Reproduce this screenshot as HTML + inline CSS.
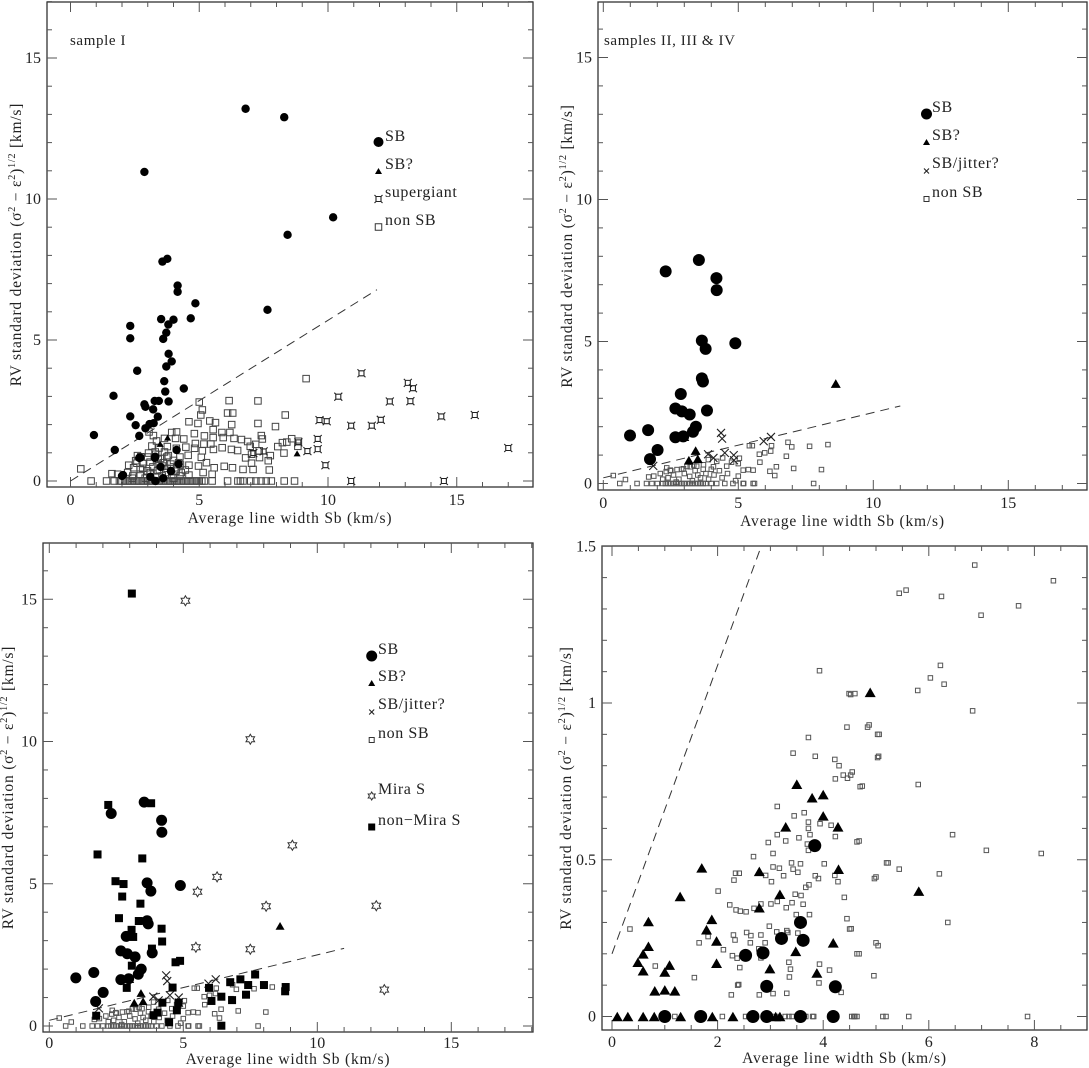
<!DOCTYPE html>
<html><head><meta charset="utf-8"><style>
html,body{margin:0;padding:0;background:#fff;}
svg{display:block;font-family:"Liberation Serif","DejaVu Serif",serif;}
</style></head><body>
<svg id="fig" width="1089" height="1068" viewBox="0 0 1089 1068" xmlns="http://www.w3.org/2000/svg"></svg>
<script>
// ---------- Panel 1 data (sample I) ----------
const p1SbX=[6.8,8.3,2.87,10.2,8.43,3.57,3.76,4.16,4.16,4.85,7.65,2.32,2.32,3.52,3.8,4.0,4.67,3.72,3.6,3.81,3.93,3.72,2.59,3.64,4.4,1.67,3.68,3.81,2.87,2.91,3.27,3.43,3.21,2.32,3.39,2.53,2.91,3.07,3.23,0.91,2.67,1.72,4.12,2.67,3.28,2.0,3.29,2.71,2.04,3.5,3.9,3.1,3.6,4.2,3.3];
const p1SbY=[13.2,12.9,10.96,9.35,8.73,7.78,7.88,6.93,6.71,6.3,6.07,5.5,5.06,5.74,5.55,5.72,5.77,5.26,5.04,4.51,4.24,4.06,3.91,3.54,3.28,3.02,3.17,2.82,2.72,2.63,2.84,2.84,2.54,2.29,2.28,1.98,1.87,2.02,2.05,1.63,1.6,1.1,1.1,0.82,0.82,0.18,0.86,0.83,0.21,0.5,0.35,0.15,0.1,0.6,0.0];
const p1TriX=[3.77,3.48,8.8];
const p1TriY=[1.54,1.32,0.98];
const p1SgX=[11.3,13.1,13.3,10.4,12.4,13.2,14.4,15.7,9.67,9.95,12.05,10.9,11.7,9.6,9.6,8.85,9.2,17.0,9.9,10.9,14.5,7.5,7.1];
const p1SgY=[3.82,3.48,3.29,2.99,2.82,2.83,2.29,2.34,2.16,2.12,2.17,1.96,1.96,1.49,1.13,1.37,1.06,1.17,0.56,0,0,1.05,0.99];
const p1NsX=[9.15,6.16,7.28,5.0,5.12,6.1,6.3,8.34,5.06,4.6,4.95,5.41,5.63,6.26,7.28,7.96,5.54,5.88,6.19,4.12,3.93,4.81,5.2,5.54,5.93,6.35,6.64,7.41,7.45,6.88,7.19,8.05,8.23,8.4,8.59,8.85,8.83,8.29,3.34,3.65,4.4,4.08,4.85,5.18,5.45,3.16,3.44,3.76,4.11,4.48,4.82,5.12,5.55,5.89,6.25,6.49,6.98,7.03,7.33,6.8,7.03,7.34,7.68,7.76,2.73,3.03,3.31,2.53,2.81,3.09,1.61,1.83,2.22,0.4,2.71,2.99,3.38,3.58,3.9,4.27,4.6,4.97,5.28,5.58,5.97,6.29,6.7,7.09,7.72,2.45,2.58,2.26,3.41,3.74,4.0,4.25,4.57,5.08,3.56,3.93,4.25,4.6,2.42,2.71,3.09,5.15,5.5,4.12,4.46,3.29,3.65,3.05,3.22,2.9,3.2,3.5,3.7,3.9,4.1,3.0,2.6,3.4,3.8,4.3,2.4,3.3,3.6,4.0,2.8,3.1,3.45,3.75,4.2,
0.8,1.4,1.7,1.9,2.0,2.1,2.2,2.3,2.4,2.5,2.6,2.7,2.8,2.9,3.0,3.1,3.2,3.3,3.4,3.5,3.6,3.7,3.8,3.9,4.0,4.1,4.2,4.3,4.4,4.5,4.6,4.7,4.8,4.9,5.0,5.1,5.2,5.5,6.1,6.5,6.6,6.7,7.0,7.2,7.4,7.6,7.8,8.3,8.7];
const p1NsY=[3.63,2.85,2.84,2.8,2.52,2.41,2.41,2.34,2.34,2.1,2.04,2.13,2.07,2.0,2.04,1.93,1.82,1.72,1.72,1.74,1.72,1.68,1.6,1.54,1.54,1.51,1.47,1.61,1.49,1.4,1.3,1.22,1.36,1.38,1.5,1.41,1.23,0.99,1.42,1.51,1.49,1.51,1.33,1.31,1.31,1.24,1.17,1.22,1.16,1.2,1.16,1.07,1.12,1.18,1.12,1.08,1.23,0.95,1.07,0.82,0.63,0.83,0.72,0.9,0.86,0.99,0.95,0.72,0.62,0.67,0.26,0.24,0.3,0.43,0.41,0.36,0.36,0.53,0.44,0.57,0.56,0.53,0.65,0.47,0.52,0.47,0.41,0.41,0.39,0.47,0.63,0.56,0.77,0.85,0.73,0.85,0.91,0.84,0.18,0.2,0.18,0.21,0.18,0.24,0.24,0.3,0.24,0.47,0.39,1.03,1.03,1.74,1.61,0.1,0.5,0.8,0.3,0.6,0.35,0.85,0.9,0.6,0.9,0.3,0.1,0.15,0.65,0.1,0.45,0.3,0.4,0.45,0.65,
0,0,0,0,0,0,0,0,0,0,0,0,0,0,0,0,0,0,0,0,0,0,0,0,0,0,0,0,0,0,0,0,0,0,0,0,0,0,0,0,0,0,0,0,0,0,0,0,0];

// ---------- Panels 2 & 3 data (samples II, III & IV) ----------
const sbX=[3.54,2.31,4.19,4.2,3.65,3.79,4.89,3.65,3.69,2.87,2.67,2.91,3.2,3.84,3.43,3.32,0.99,1.66,2.67,2.96,2.01,1.73];
const sbY=[7.87,7.47,7.23,6.81,5.03,4.74,4.94,3.7,3.59,3.15,2.64,2.54,2.43,2.57,2.0,1.82,1.69,1.88,1.63,1.66,1.18,0.86];
const triX=[8.61,3.42,3.17,3.5,3.0];
const triY=[3.52,1.16,0.82,0.87,1.65];
const crossX=[4.36,4.4,5.94,6.21,1.85,3.88,4.5,4.83,4.84,4.08];
const crossY=[1.78,1.58,1.49,1.64,0.62,1.03,1.08,1.0,0.82,0.9];
const nsX=[8.32,7.64,6.84,6.98,6.23,6.2,5.98,5.78,5.41,5.52,6.78,5.8,6.41,6.17,6.35,7.05,8.08,7.79,0.37,0.82,0.61,1.25,1.68,1.87,2.11,2.33,2.48,2.73,2.97,3.22,3.46,3.71,3.89,4.08,4.2,4.42,4.57,4.75,5.04,5.0,5.18,5.37,5.55,5.18,5.55,
1.6,1.8,2.0,2.2,2.3,2.4,2.5,2.6,2.7,2.8,2.9,3.0,3.1,3.2,3.3,3.4,3.5,3.6,3.7,3.8,4.0,4.2,4.5,4.8,5.2,5.6,
2.4,2.6,2.8,3.0,3.2,3.4,3.6,3.8,2.5,2.9,3.3,3.5,3.7,3.9,4.1,4.3,4.4,2.2,2.7,3.1,4.6,4.0,3.35,2.35,4.9,5.0];
const nsY=[1.37,1.31,1.45,1.29,1.33,1.14,1.08,1.03,1.33,1.33,0.96,0.75,0.59,0.43,0.28,0.53,0.49,0,0.28,0.14,0,0,0.23,0.26,0.35,0.42,0.47,0.49,0.52,0.59,0.61,0.66,0.84,0.59,0.78,0.9,0.61,0.75,0.89,0.26,0.47,0.49,0.47,0,0,
0,0,0,0,0,0,0,0,0,0,0,0,0,0,0,0,0,0,0,0,0,0,0,0,0,0,
0.2,0.3,0.15,0.35,0.25,0.45,0.2,0.35,0.45,0.5,0.1,0.3,0.5,0.15,0.3,0.45,0.2,0.15,0.05,0.6,0.35,0.5,0.65,0.55,0.1,0.7];
const miraX=[5.08,7.5,9.07,6.26,5.53,8.09,12.2,5.47,7.5,12.5];
const miraY=[14.95,10.08,6.35,5.24,4.72,4.21,4.23,2.77,2.7,1.28];
const nonMiraX=[3.08,2.2,3.8,1.8,3.47,2.47,2.77,2.72,3.4,2.6,3.34,3.07,3.13,4.19,4.21,3.83,3.08,4.71,4.88,7.68,7.13,6.75,7.42,8.01,8.82,8.8,5.96,4.6,2.89,7.34,6.42,6.82,6.05,4.22,4.82,4.04,3.89,4.76,4.47,6.42,1.75];
const nonMiraY=[15.2,7.77,7.83,6.03,5.89,5.09,4.99,4.55,4.3,3.79,3.69,3.38,3.13,3.42,2.97,2.72,2.12,2.24,2.29,1.81,1.64,1.54,1.44,1.44,1.37,1.22,1.34,1.35,1.34,1.1,1.03,0.91,0.88,0.82,0.82,0.47,0.38,0.55,0.13,0.01,0.36];

// ---------- Panel 4 data (zoom) ----------
const p4SbX=[3.84,3.57,3.21,3.62,2.53,2.86,2.93,4.23,1.0,1.68,2.67,2.93,3.57,4.19];
const p4SbY=[0.545,0.30,0.249,0.243,0.195,0.203,0.096,0.095,0,0,0,0,0,0];
const p4TriX=[4.89,3.5,3.79,4.0,4.0,3.29,4.28,1.7,2.79,4.29,1.29,3.18,2.79,0.69,1.89,1.79,1.98,0.69,0.59,0.49,0.59,1.09,1.98,2.99,3.48,4.19,3.88,0.81,1.0,1.19,1.0,5.81,0.1,0.3,0.59,0.8,1.3,1.9,2.29,3.18,3.1];
const p4TriY=[1.034,0.741,0.698,0.708,0.64,0.605,0.605,0.474,0.463,0.47,0.383,0.39,0.347,0.303,0.31,0.277,0.241,0.224,0.2,0.173,0.146,0.164,0.17,0.153,0.208,0.235,0.139,0.082,0.085,0.082,0.142,0.40,0,0,0,0,0,0,0,0,0];
const p4NsX=[6.87,8.36,5.44,5.57,6.24,7.70,6.99,6.22,6.03,6.29,5.79,4.6,6.83,4.87,5.06,5.05,4.55,4.74,5.8,6.45,7.09,4.68,8.13,5.23,5.44,5.0,6.2,6.36,4.53,5.0,5.04,4.68,4.96,4.6,4.64,5.19,5.62,7.87,
3.93,4.49,4.52,4.45,4.84,5.03,3.72,3.43,3.85,4.22,4.3,5.03,4.23,4.38,4.52,4.46,4.7,3.13,3.45,3.64,3.72,3.72,3.94,4.15,4.23,3.75,3.13,3.29,3.54,2.96,3.05,3.7,3.72,4.64,2.68,3.4,3.57,4.02,3.05,3.17,3.25,3.43,3.52,3.85,3.91,4.22,4.28,2.34,2.41,2.31,2.91,3.02,4.97,5.2,2.01,3.47,3.58,3.67,3.73,3.13,3.41,3.62,4.4,2.23,2.35,2.43,2.54,2.69,2.82,3.01,3.3,3.49,3.74,4.45,4.5,2.98,3.12,3.31,3.33,3.52,2.3,2.33,2.55,2.63,2.62,2.82,2.9,1.65,1.82,2.11,2.28,2.37,2.78,2.82,2.42,3.35,3.38,3.36,3.93,4.12,4.64,0.82,0.34,1.56,2.38,2.4,2.26,2.79,3.05,3.31,3.92,4.34,
1.19,2.09,2.53,2.59,2.98,3.07,3.13,3.28,3.35,3.41,3.67,3.8,3.82,4.54,4.58,5.13];
const p4NsY=[1.44,1.39,1.35,1.36,1.34,1.31,1.28,1.12,1.08,1.06,1.04,1.03,0.975,0.93,0.90,0.83,0.78,0.735,0.74,0.58,0.53,0.56,0.52,0.49,0.47,0.445,0.455,0.30,0.28,0.235,0.226,0.20,0.13,0,0,0,0,0,
1.103,1.03,1.027,0.923,0.923,0.9,0.89,0.84,0.83,0.82,0.80,0.826,0.758,0.77,0.77,0.76,0.733,0.67,0.64,0.65,0.62,0.6,0.615,0.61,0.574,0.58,0.58,0.56,0.57,0.555,0.52,0.55,0.53,0.557,0.51,0.49,0.487,0.487,0.477,0.473,0.449,0.47,0.46,0.449,0.44,0.45,0.43,0.457,0.457,0.435,0.45,0.43,0.44,0.49,0.4,0.39,0.386,0.412,0.42,0.367,0.363,0.358,0.38,0.356,0.34,0.336,0.334,0.345,0.359,0.359,0.347,0.325,0.325,0.312,0.279,0.288,0.27,0.274,0.268,0.266,0.26,0.244,0.268,0.258,0.235,0.26,0.235,0.235,0.255,0.213,0.194,0.186,0.216,0.187,0.156,0.173,0.151,0.126,0.167,0.148,0.2,0.161,0.279,0.124,0.1,0.102,0.069,0.069,0.073,0.074,0.107,0.077,
0,0,0,0,0,0,0,0,0,0,0,0,0,0,0,0];

const NS='http://www.w3.org/2000/svg';
const svg=document.getElementById('fig');
function mk(tag,attrs,parent){const e=document.createElementNS(NS,tag);for(const k in attrs)e.setAttribute(k,attrs[k]);(parent||svg).appendChild(e);return e;}

function makeAxes(c){
  const sx=v=>c.x0+v*c.xs, sy=v=>c.y0-v*c.ys;
  const g=mk('g',{});
  
  
  const fr=mk('rect',{x:c.L,y:c.T,width:c.R-c.L,height:c.B-c.T,fill:'none',stroke:'#333','stroke-width':1.3},g);
  
  
  for(let v=c.xMinorStart;v<=c.xMax+1e-9;v+=c.xMinor){
    const X=sx(v); if(X<c.L||X>c.R)continue;
    const major=Math.abs(v/c.xMajor-Math.round(v/c.xMajor))<1e-6;
    const len=major?10:5;
    mk('line',{x1:X,y1:c.B,x2:X,y2:c.B-len,stroke:'#555','stroke-width':1},g);
    mk('line',{x1:X,y1:c.T,x2:X,y2:c.T+len,stroke:'#555','stroke-width':1},g);
  }
  for(let v=c.yMinorStart;v<=c.yMax+1e-9;v+=c.yMinor){
    const Y=sy(v); if(Y<c.T-0.5||Y>c.B)continue;
    const major=Math.abs(v/c.yMajor-Math.round(v/c.yMajor))<1e-6;
    const len=major?10:5;
    mk('line',{x1:c.L,y1:Y,x2:c.L+len,y2:Y,stroke:'#555','stroke-width':1},g);
    mk('line',{x1:c.R,y1:Y,x2:c.R-len,y2:Y,stroke:'#555','stroke-width':1},g);
  }
  c.xLabels.forEach(v=>{
    const t=mk('text',{x:sx(v),y:c.B+c.tickDy,'font-size':16,'text-anchor':'middle',fill:'#222'},g);
    t.textContent=String(v);
    
    
  });
  c.yLabels.forEach(v=>{
    const t=mk('text',{x:c.L-6,y:sy(v)+5,'font-size':16,'text-anchor':'end',fill:'#222'},g);
    t.textContent=String(v);
    
    
  });
  const xt=mk('text',{x:(c.L+c.R)/2,y:c.B+c.titleDy,'font-size':15.5,'text-anchor':'middle',fill:'#222','letter-spacing':'0.8'},g);
  xt.textContent='Average line width Sb (km/s)';
  
  
  const cy=(c.T+c.B)/2;
  const yt=mk('text',{x:c.yTitleX,y:cy,'font-size':15.5,'text-anchor':'middle',fill:'#222','letter-spacing':'0.8',transform:`rotate(-90 ${c.yTitleX} ${cy})`},g);
  yt.innerHTML='RV standard deviation (σ<tspan font-size="10" dy="-6">2</tspan><tspan dy="6"> − ε</tspan><tspan font-size="10" dy="-6">2</tspan><tspan dy="6">)</tspan><tspan font-size="10" dy="-6">1/2</tspan><tspan dy="6"> [km/s]</tspan>';
  
  
  const cp=mk('clipPath',{id:'clip-'+c.name},g);
  mk('rect',{x:c.L,y:c.T,width:c.R-c.L,height:c.B-c.T},cp);
  const pg=mk('g',{'clip-path':`url(#clip-${c.name})`},g);
  return {sx,sy,g,pg};
}

function circle(p,x,y,r,name){const e=mk('circle',{cx:x,cy:y,r:r,fill:'#000'},p);return e;}
function square(p,x,y,s,name,fill,stroke){const e=mk('rect',{x:x-s/2,y:y-s/2,width:s,height:s,fill:fill||'none',stroke:stroke||'#333','stroke-width':1},p);return e;}
function tri(p,x,y,s,name){const h=s*0.87;const e=mk('polygon',{points:`${x-s/2},${y+h/2} ${x+s/2},${y+h/2} ${x},${y-h/2}`,fill:'#000'},p);return e;}
function cross(p,x,y,s,name){const e=mk('path',{d:`M${x-s/2},${y-s/2}L${x+s/2},${y+s/2}M${x-s/2},${y+s/2}L${x+s/2},${y-s/2}`,stroke:'#222','stroke-width':1.1,fill:'none'},p);return e;}
function star(p,x,y,r,name){const pts=[];for(let i=0;i<12;i++){const a=Math.PI/6*i-Math.PI/2;const rr=i%2?r*0.58:r;pts.push((x+rr*Math.cos(a)).toFixed(1)+','+(y+rr*Math.sin(a)).toFixed(1));}const e=mk('polygon',{points:pts.join(' '),fill:'none',stroke:'#333','stroke-width':1},p);return e;}
function sg(p,x,y,name){const e=mk('path',{d:`M${x-2.5},${y-2.5}L${x+2.5},${y-2.5}L${x+2.5},${y+2.5}L${x-2.5},${y+2.5}Z M${x-2.5},${y-2.5}l-1.5,-1.5 M${x+2.5},${y-2.5}l1.5,-1.5 M${x-2.5},${y+2.5}l-1.5,1.5 M${x+2.5},${y+2.5}l1.5,1.5`,fill:'none',stroke:'#222','stroke-width':1.1},p);return e;}
function dashed(p,x1,y1,x2,y2){const e=mk('line',{x1,y1,x2,y2,stroke:'#333','stroke-width':1,'stroke-dasharray':'9,6'},p);}
function label(x,y,txt,name,size){const t=mk('text',{x,y,'font-size':size||16,fill:'#222','letter-spacing':'0.6'});t.textContent=txt;return t;}

// ----- Panel 1 -----
(function(){
  const a=makeAxes({name:'panel-sample-1',L:47,T:2,R:533,B:487,x0:70.5,xs:25.75,y0:481,ys:28.2,xMax:18,yMax:17,xMinor:1,xMajor:5,xMinorStart:-1,yMinor:1,yMajor:5,yMinorStart:0,xLabels:[0,5,10,15],yLabels:[0,5,10,15],yTitleX:21,tickDy:18,titleDy:36});
  dashed(a.pg,a.sx(0),a.sy(0),a.sx(11.9),a.sy(11.9*0.57));
  p1NsX.forEach((v,i)=>square(a.pg,a.sx(v),a.sy(p1NsY[i]),6.5,'non-sb-point','none','#444'));
  p1SgX.forEach((v,i)=>sg(a.pg,a.sx(v),a.sy(p1SgY[i]),'supergiant-point'));
  p1TriX.forEach((v,i)=>tri(a.pg,a.sx(v),a.sy(p1TriY[i]),7,'sb-candidate-point'));
  p1SbX.forEach((v,i)=>circle(a.pg,a.sx(v),a.sy(p1SbY[i]),4.2,'sb-point'));
  label(70,45,'sample I','panel-title',15);
  circle(svg,378.5,142,5,'legend-sb-marker');label(385,141,'SB','legend-sb');
  tri(svg,378.5,171,7,'legend-sb-candidate-marker');label(385,169,'SB?','legend-sb-candidate');
  sg(svg,378.5,199,'legend-supergiant-marker');label(385,197,'supergiant','legend-supergiant');
  square(svg,378.5,227,6.5,'legend-non-sb-marker');label(385,225,'non SB','legend-non-sb');
})();

// ----- Panel 2 -----
(function(){
  const a=makeAxes({name:'panel-samples-2-3-4',L:598,T:2,R:1087,B:490,x0:603.3,xs:27.0,y0:483.5,ys:28.4,xMax:18,yMax:17,xMinor:1,xMajor:5,xMinorStart:-1,yMinor:1,yMajor:5,yMinorStart:0,xLabels:[0,5,10,15],yLabels:[0,5,10,15],yTitleX:572,tickDy:18,titleDy:36});
  dashed(a.pg,a.sx(0),a.sy(0.2),a.sx(11),a.sy(0.2+0.23*11));
  nsX.forEach((v,i)=>square(a.pg,a.sx(v),a.sy(nsY[i]),4.5,'non-sb-point','none','#555'));
  crossX.forEach((v,i)=>cross(a.pg,a.sx(v),a.sy(crossY[i]),8,'sb-jitter-point'));
  triX.forEach((v,i)=>tri(a.pg,a.sx(v),a.sy(triY[i]),10,'sb-candidate-point'));
  sbX.forEach((v,i)=>circle(a.pg,a.sx(v),a.sy(sbY[i]),6,'sb-point'));
  label(604,45,'samples II, III & IV','panel-title',15);
  circle(svg,926.5,114,5.5,'legend-sb-marker');label(932,112,'SB','legend-sb');
  tri(svg,926.5,142,7,'legend-sb-candidate-marker');label(932,140,'SB?','legend-sb-candidate');
  cross(svg,926.5,171,5,'legend-sb-jitter-marker');label(932,168,'SB/jitter?','legend-sb-jitter');
  square(svg,926.5,199,5,'legend-non-sb-marker');label(932,197,'non SB','legend-non-sb');
})();

// ----- Panel 3 -----
(function(){
  const a=makeAxes({name:'panel-s-stars',L:43,T:543,R:533,B:1032,x0:49.3,xs:26.8,y0:1026,ys:28.45,xMax:18,yMax:17,xMinor:1,xMajor:5,xMinorStart:-1,yMinor:1,yMajor:5,yMinorStart:0,xLabels:[0,5,10,15],yLabels:[0,5,10,15],yTitleX:13,tickDy:16,titleDy:32});
  dashed(a.pg,a.sx(0),a.sy(0.2),a.sx(11),a.sy(0.2+0.23*11));
  nsX.forEach((v,i)=>square(a.pg,a.sx(v),a.sy(nsY[i]),4.5,'non-sb-point','none','#555'));
  crossX.forEach((v,i)=>cross(a.pg,a.sx(v),a.sy(crossY[i]),8,'sb-jitter-point'));
  triX.forEach((v,i)=>tri(a.pg,a.sx(v),a.sy(triY[i]),9,'sb-candidate-point'));
  sbX.forEach((v,i)=>circle(a.pg,a.sx(v),a.sy(sbY[i]),5.5,'sb-point'));
  nonMiraX.forEach((v,i)=>square(a.pg,a.sx(v),a.sy(nonMiraY[i]),7,'non-mira-s-point','#000','#000'));
  miraX.forEach((v,i)=>star(a.pg,a.sx(v),a.sy(miraY[i]),5,'mira-s-point'));
  circle(svg,371.7,656,5.5,'legend-sb-marker');label(378,654,'SB','legend-sb');
  tri(svg,371.7,683,7,'legend-sb-candidate-marker');label(378,681,'SB?','legend-sb-candidate');
  cross(svg,371.7,712,5,'legend-sb-jitter-marker');label(378,709,'SB/jitter?','legend-sb-jitter');
  square(svg,371.7,740,5,'legend-non-sb-marker');label(378,738,'non SB','legend-non-sb');
  star(svg,371.7,796,4,'legend-mira-marker');label(378,794,'Mira S','legend-mira-s');
  square(svg,371.7,827,6,'legend-non-mira-marker','#000','#000');label(378,825,'non−Mira S','legend-non-mira-s');
})();

// ----- Panel 4 -----
(function(){
  const a=makeAxes({name:'panel-zoom',L:602,T:546,R:1087,B:1030,x0:612,xs:52.8,y0:1016.5,ys:313.5,xMax:9.5,yMax:1.5,xMinor:0.5,xMajor:2,xMinorStart:-0.5,yMinor:0.1,yMajor:0.5,yMinorStart:0,xLabels:[0,2,4,6,8],yLabels:[0,0.5,1,1.5],yTitleX:571,tickDy:17,titleDy:33});
  dashed(a.pg,a.sx(0),a.sy(0.2),a.sx((1.5-0.2)/0.46),a.sy(1.5));
  p4NsX.forEach((v,i)=>square(a.pg,a.sx(v),a.sy(p4NsY[i]),4.5,'non-sb-point','none','#555'));
  p4TriX.forEach((v,i)=>tri(a.pg,a.sx(v),a.sy(p4TriY[i]),11,'sb-candidate-point'));
  p4SbX.forEach((v,i)=>circle(a.pg,a.sx(v),a.sy(p4SbY[i]),6.5,'sb-point'));
})();
</script>
</body></html>
